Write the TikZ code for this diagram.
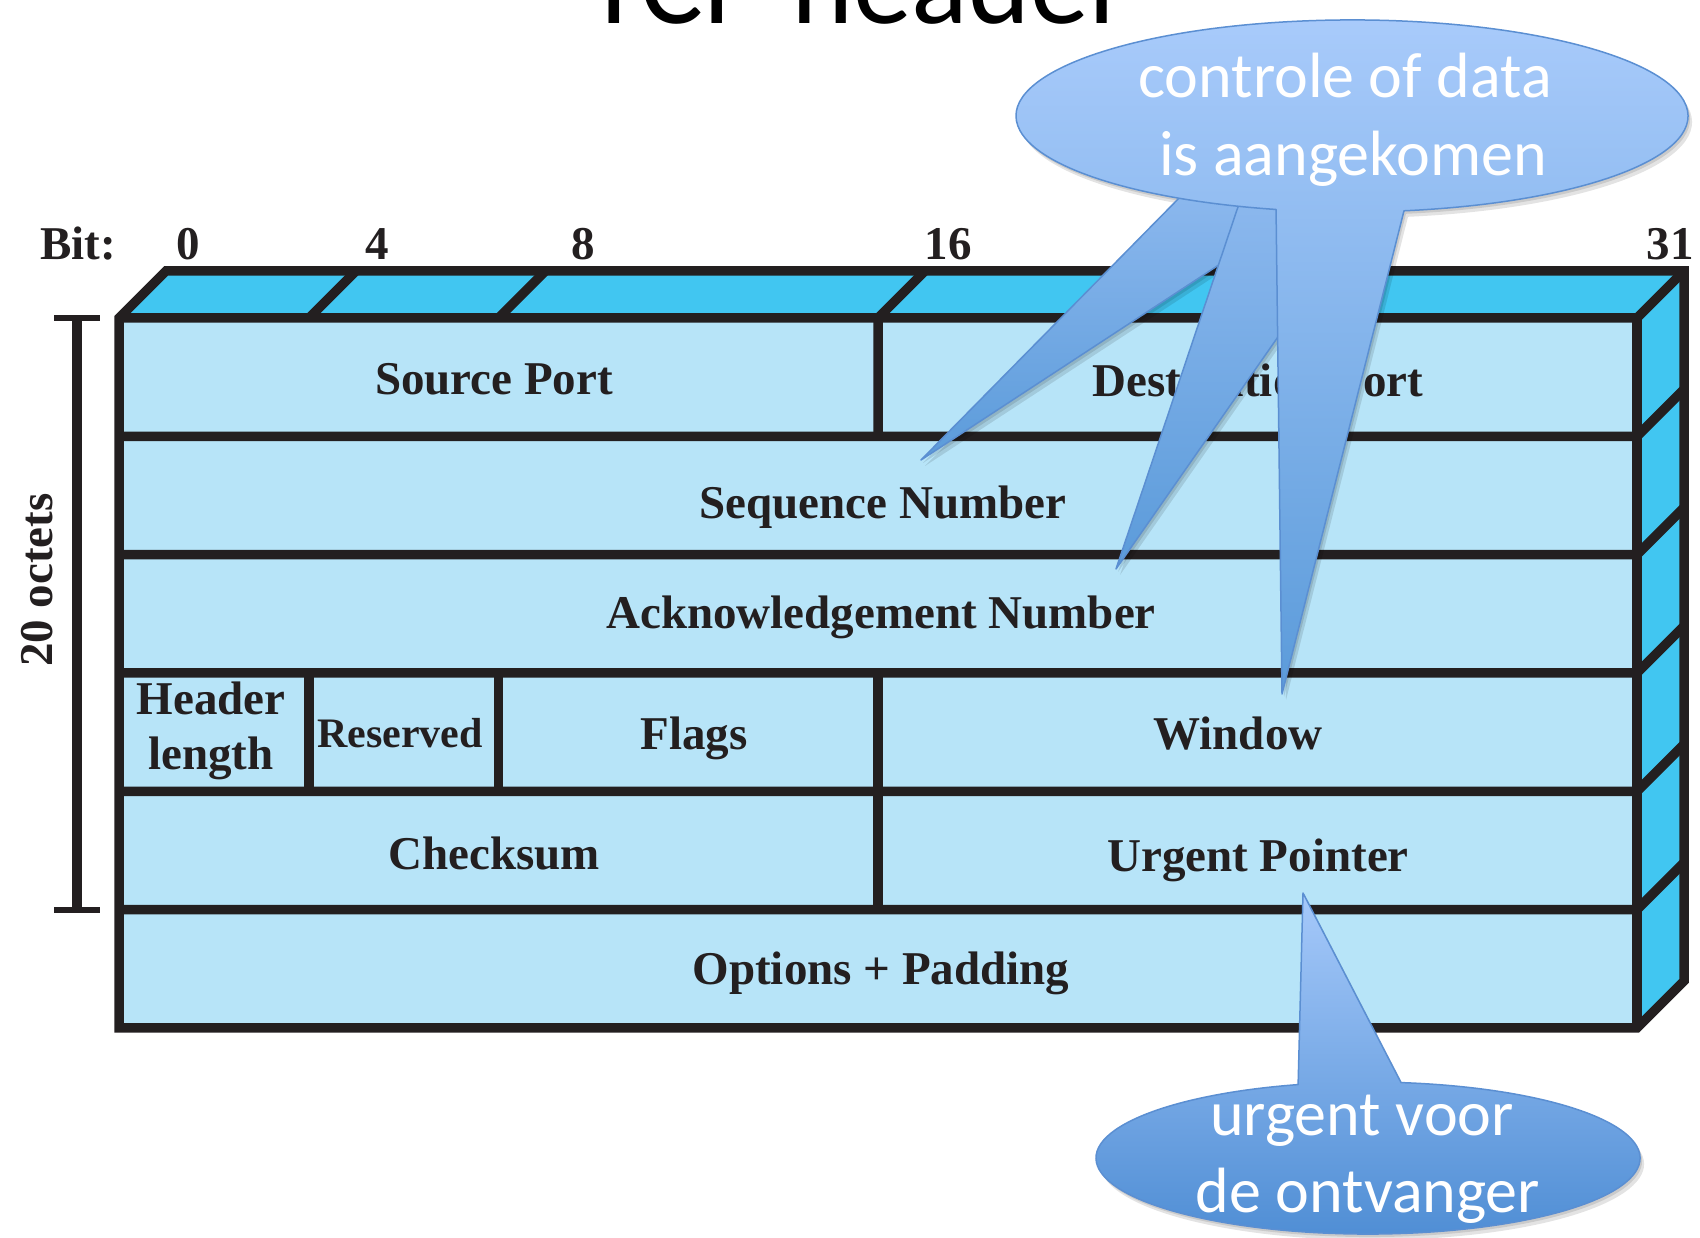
\documentclass[tikz,border=0pt]{standalone}
\usepackage{fontspec}
\setmainfont{Liberation Serif}
\newfontfamily\callfont{Carlito}
\usetikzlibrary{calc}

\definecolor{frontblue}{HTML}{B7E4F8}
\definecolor{sideblue}{HTML}{41C6F1}
\definecolor{inkline}{HTML}{231F20}
\definecolor{bubbleline}{HTML}{5B8FD2}
\definecolor{bubbletop}{HTML}{A9CBFB}
\definecolor{bubblemid}{HTML}{8CB8EE}
\definecolor{bubbletip}{HTML}{5B9BDA}
\definecolor{lowtop}{HTML}{A6C9FA}
\definecolor{lowbottom}{HTML}{4E8DD4}

\newcommand\fieldsize{\fontsize{47}{56}\selectfont}
\newcommand\bubblesize{\fontsize{64}{78}\selectfont}

% callout outlines (wedges and bubbles)
\newcommand\wedgeonepath{(1187,1047) -- (921,777) -- (1318,1037) -- cycle}
\newcommand\wedgetwopath{(1242,1042) -- (1116,668) -- (1377,1042) -- cycle}
\newcommand\topbubblepath{(1404,1026.2) arc[start angle=278.9, end angle=616.93, x radius=336, y radius=96] -- (1282,543) -- cycle}
\newcommand\lowbubblepath{(1298.1,152.4) arc[start angle=104.9, end angle=443.03, x radius=272, y radius=76] -- (1303,344) -- cycle}

\begin{document}
\begin{tikzpicture}[x=1pt,y=1pt,
  frame/.style={draw=inkline, line width=9.5pt},
  field/.style={font=\fieldsize\bfseries, text=inkline, anchor=base, inner sep=0pt},
  bubble/.style={draw=bubbleline, line width=1.5pt, line join=round},
  bubbletext/.style={font=\callfont\bubblesize, text=white, anchor=base, inner sep=0pt},
  shadowfill/.style={fill=black, fill opacity=0.11},
]
\clip (0,0) rectangle (1700,1237);

% title, mostly above the page edge
\node[font=\callfont\fontsize{118}{136}\selectfont, anchor=base, inner sep=0pt] (title) at (858,1213) {TCP header};

% faces of the header block
\fill[frontblue] (119,209) rectangle (1637,919);
\fill[sideblue] (119,919) -- (166,966) -- (1684,966) -- (1637,919) -- cycle;
\fill[sideblue] (1637,919) -- (1684,966) -- (1684,256) -- (1637,209) -- cycle;

% row separators with their side-face continuations
\foreach \yy in {800.67,682.33,564,445.67,327.33} {
  \draw[frame] (119,\yy) -- (1637,\yy) -- (1684,{\yy+47});
}
% field separators
\draw[frame] (878,800.67) -- (878,919) -- (925,966);
\draw[frame] (309,919) -- (356,966);
\draw[frame] (498.5,919) -- (545.5,966);
\draw[frame] (309,445.67) -- (309,564);
\draw[frame] (498.5,445.67) -- (498.5,564);
\draw[frame] (878,445.67) -- (878,564);
\draw[frame] (878,327.33) -- (878,445.67);
% block edges
\draw[frame] (119,919) -- (1637,919) -- (1684,966);
\draw[frame] (1637,919) -- (1637,209);
\draw[frame] (119,209) -- (119,919) -- (166,966) -- (1684,966) -- (1684,256) -- (1637,209) -- cycle;

% bit ruler
\node[field] (bitword) at (78,977) {Bit:};
\node[field] (bit0) at (188,977) {0};
\node[field] (bit4) at (377,977) {4};
\node[field] (bit8) at (583,977) {8};
\node[field] (bit16) at (948,977) {16};
\node[field] (bit31) at (1670,977) {31};

% 20-octet bracket
\coordinate (brtop) at (77,919);
\coordinate (brbot) at (77,327.33);
\draw[draw=inkline, line width=9.5pt] (brtop) -- (brbot);
\draw[draw=inkline, line width=6pt] ($(brtop)+(-23,0)$) -- ($(brtop)+(23,0)$);
\draw[draw=inkline, line width=6pt] ($(brbot)+(-23,0)$) -- ($(brbot)+(23,0)$);
\node[field, rotate=90] (octets) at (52,657) {20 octets};

% field names
\node[field] (srcport) at (494,842) {Source Port};
\node[field] (dstport) at (1258,840) {Destination Port};
\node[field] (seqnum) at (883,718) {Sequence Number};
\node[field] (acknum) at (881,608) {Acknowledgement Number};
\node[field] (hdr1) at (211,522) {Header};
\node[field] (hdr2) at (211,467) {length};
\node[field, font=\fontsize{42}{50}\selectfont\bfseries] (reserved) at (400,489) {Reserved};
\node[field] (flags) at (694,487) {Flags};
\node[field] (window) at (1238,487) {Window};
\node[field] (checksum) at (494,367) {Checksum};
\node[field] (urgent) at (1258,365) {Urgent Pointer};
\node[field] (options) at (881,252) {Options + Padding};

% upper callout: two extra pointers behind the main bubble, soft drop shadows
\foreach \sx/\sy in {2/-3,4/-6} {
  \begin{scope}[transform canvas={shift={(\sx,\sy)}}]
    \path[shadowfill] \wedgeonepath;
    \path[shadowfill] \wedgetwopath;
    \path[shadowfill] \topbubblepath;
  \end{scope}
}
\path[bubble, top color=bubblemid, bottom color=bubbletip] \wedgeonepath;
\path[bubble, top color=bubblemid, bottom color=bubbletip] \wedgetwopath;
\path[bubble, top color=bubbletop, bottom color=bubbletip] \topbubblepath;
\node[bubbletext] (ctl1) at (1345,1139) {controle of data};
\node[bubbletext] (ctl2) at (1353,1061) {is aangekomen};

% lower callout
\foreach \sx/\sy in {2/-3,4/-6} {
  \begin{scope}[transform canvas={shift={(\sx,\sy)}}]
    \path[shadowfill] \lowbubblepath;
  \end{scope}
}
\path[bubble, top color=lowtop, bottom color=lowbottom] \lowbubblepath;
\node[bubbletext] (urg1) at (1362,101) {urgent voor};
\node[bubbletext] (urg2) at (1368,24) {de ontvanger};
\end{tikzpicture}
\end{document}
